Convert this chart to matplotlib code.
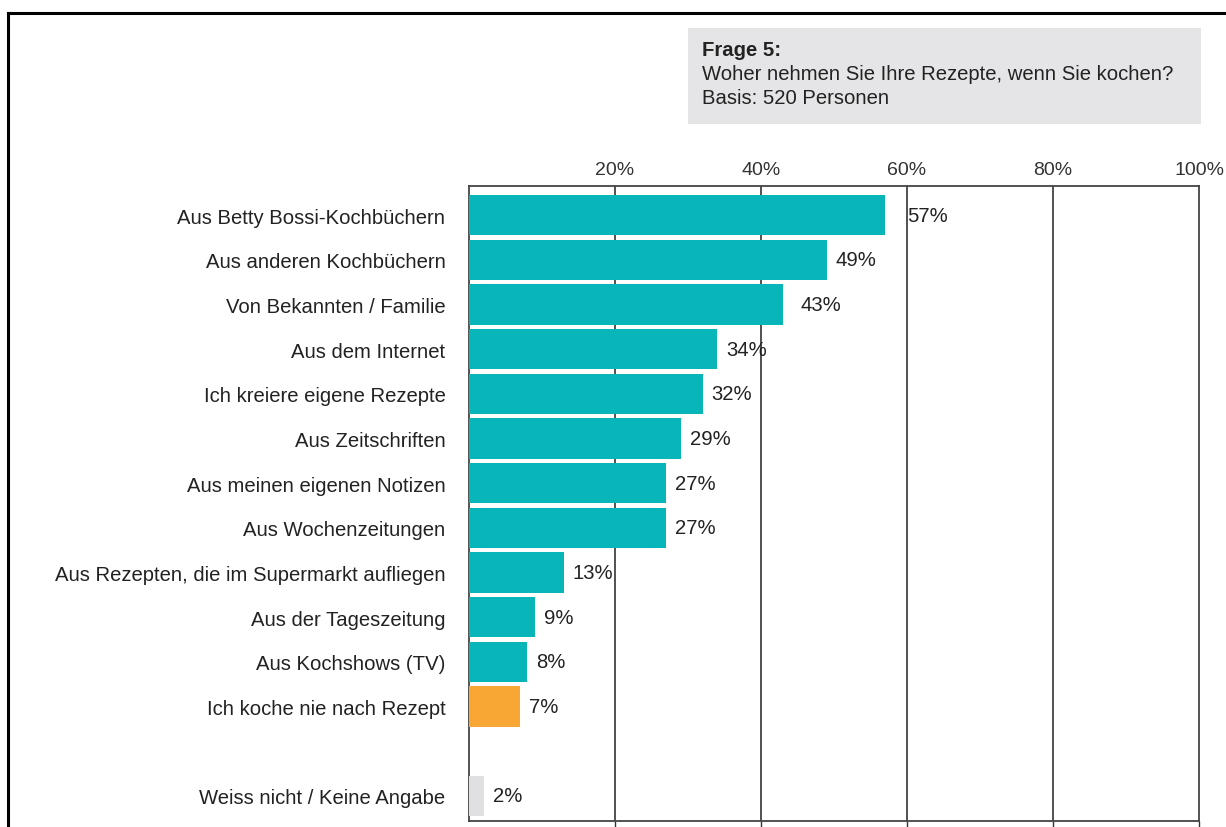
import matplotlib
matplotlib.use("Agg")
import matplotlib.pyplot as plt
from matplotlib.patches import Rectangle
from matplotlib.lines import Line2D

plt.rcParams["font.family"] = ["Liberation Sans", "DejaVu Sans"]

# answers, top to bottom (row 12 is left empty before the last one)
categories = [
    "Aus Betty Bossi-Kochbüchern",
    "Aus anderen Kochbüchern",
    "Von Bekannten / Familie",
    "Aus dem Internet",
    "Ich kreiere eigene Rezepte",
    "Aus Zeitschriften",
    "Aus meinen eigenen Notizen",
    "Aus Wochenzeitungen",
    "Aus Rezepten, die im Supermarkt aufliegen",
    "Aus der Tageszeitung",
    "Aus Kochshows (TV)",
    "Ich koche nie nach Rezept",
    "Weiss nicht / Keine Angabe",
]
values = [57, 49, 43, 34, 32, 29, 27, 27, 13, 9, 8, 7, 2]
rows = [0, 1, 2, 3, 4, 5, 6, 7, 8, 9, 10, 11, 13]
ticks = [20, 40, 60, 80, 100]

TEAL = "#08b6b9"
ORANGE = "#f8a735"
GREY = "#e0e0e3"
colors = [TEAL] * 11 + [ORANGE, GREY]
TXT = "#222222"
FS = 14.6

W, H = 1226, 828
fig = plt.figure(figsize=(W / 100, H / 100), dpi=100)

# outer frame (top + left edge only)
fig.add_artist(Line2D([8 / W, 8 / W], [0, 1 - 14 / H], color="black", lw=2.2))
fig.add_artist(Line2D([8 / W, 1], [1 - 14 / H, 1 - 14 / H], color="black", lw=2.2))

# question box
fig.add_artist(Rectangle((688 / W, 1 - 125 / H), 513 / W, 96 / H,
                         facecolor="#e5e5e7", edgecolor="none"))
fig.text(702 / W, 1 - 50 / H, "Frage 5:", fontsize=FS, fontweight="bold",
         va="center", ha="left", color=TXT)
fig.text(702 / W, 1 - 74 / H, "Woher nehmen Sie Ihre Rezepte, wenn Sie kochen?",
         fontsize=FS, va="center", ha="left", color=TXT)
fig.text(702 / W, 1 - 99 / H, "Basis: 520 Personen", fontsize=FS,
         va="center", ha="left", color=TXT)

ax = fig.add_axes([469 / W, 1 - 822 / H, (1199 - 469) / W, (822 - 187) / H])
ax.set_xlim(0, 100)
ax.set_ylim(13.56, -0.65)

ax.barh(rows, values, height=0.9, color=colors, zorder=3)

for v in ticks[:-1]:
    ax.axvline(v, color=TXT, lw=1.1, zorder=1)

# value labels; a couple sit a bit further out in the original
pad_px = {0: 22, 2: 18}
for i, (r, v) in enumerate(zip(rows, values)):
    ax.annotate(f"{v}%", (v, r), xytext=(pad_px.get(i, 9) * 0.72, 0),
                textcoords="offset points", va="center", ha="left",
                fontsize=FS, color=TXT)

ax.set_yticks(rows)
ax.set_yticklabels(categories, fontsize=FS, color=TXT)
ax.tick_params(axis="y", length=0, pad=17)

ax.set_xticks(ticks)
ax.set_xticklabels([f"{t}%" for t in ticks], fontsize=14, color="#333333")
ax.tick_params(axis="x", top=False, labeltop=True, bottom=True, labelbottom=False,
               length=4, width=1, color="#333333", pad=1.5, direction="out")

for s in ax.spines.values():
    s.set_color("#444444")
    s.set_linewidth(1.3)

fig.savefig("out.png", dpi=100)
